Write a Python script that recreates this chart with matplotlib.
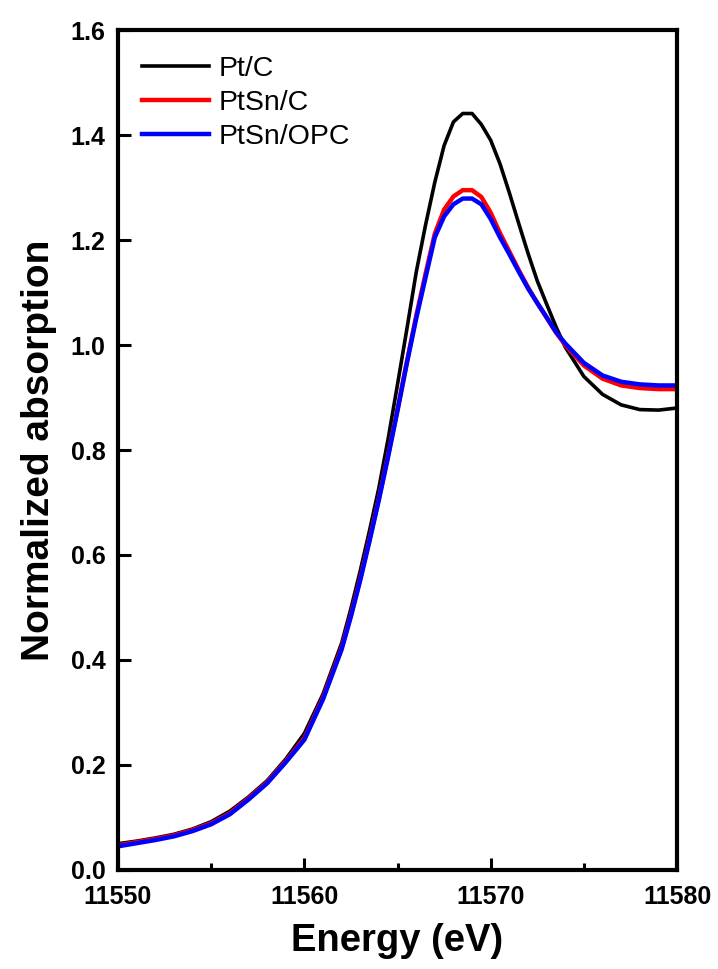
import numpy as np
import matplotlib
matplotlib.use("Agg")
import matplotlib.pyplot as plt
from matplotlib.ticker import MultipleLocator, FormatStrFormatter

# -----------------------------------------------------------------------------
# Data
# -----------------------------------------------------------------------------
energy = [11550, 11551, 11552, 11553, 11554, 11555, 11556, 11557, 11558, 11559,
          11560, 11561, 11562, 11562.5, 11563, 11563.5, 11564, 11564.5, 11565, 11565.5,
          11566, 11566.5, 11567, 11567.5, 11568, 11568.5, 11569, 11569.5, 11570, 11570.5,
          11571, 11571.5, 11572, 11572.5, 11573, 11573.5, 11574, 11575, 11576, 11577,
          11578, 11579, 11580]

pt_c = [0.050, 0.055, 0.061, 0.068, 0.078, 0.092, 0.112, 0.139, 0.170, 0.211,
        0.260, 0.335, 0.432, 0.498, 0.570, 0.647, 0.728, 0.822, 0.925, 1.030,
        1.138, 1.228, 1.310, 1.380, 1.425, 1.441, 1.441, 1.420, 1.390, 1.345,
        1.290, 1.232, 1.175, 1.122, 1.078, 1.035, 0.996, 0.940, 0.906, 0.886,
        0.877, 0.876, 0.880]

ptsn_c = [0.047, 0.053, 0.059, 0.066, 0.076, 0.089, 0.108, 0.136, 0.167, 0.207,
          0.251, 0.328, 0.423, 0.486, 0.555, 0.630, 0.708, 0.791, 0.878, 0.968,
          1.055, 1.135, 1.212, 1.258, 1.283, 1.295, 1.295, 1.282, 1.252, 1.213,
          1.178, 1.143, 1.110, 1.080, 1.052, 1.024, 1.000, 0.961, 0.936, 0.923,
          0.918, 0.916, 0.916]

ptsn_opc = [0.045, 0.051, 0.057, 0.064, 0.074, 0.087, 0.106, 0.134, 0.165, 0.205,
            0.248, 0.325, 0.420, 0.483, 0.552, 0.627, 0.705, 0.788, 0.875, 0.965,
            1.050, 1.128, 1.205, 1.245, 1.268, 1.279, 1.279, 1.268, 1.240, 1.205,
            1.173, 1.140, 1.108, 1.080, 1.053, 1.025, 1.003, 0.966, 0.942, 0.930,
            0.925, 0.923, 0.923]

labels = ['Pt/C', 'PtSn/C', 'PtSn/OPC']
colors = ['black', '#ff0000', '#0000ff']

# -----------------------------------------------------------------------------
# Plot
# -----------------------------------------------------------------------------
plt.rcParams['font.family'] = ['Liberation Sans', 'DejaVu Sans']

fig = plt.figure(figsize=(7.18, 9.69), dpi=100)
ax = fig.add_axes([0.1643, 0.1022, 0.7787, 0.8668])

for y, lab, col, lw in zip([pt_c, ptsn_c, ptsn_opc], labels, colors, [2.6, 3.2, 3.2]):
    ax.plot(energy, y, color=col, lw=lw, label=lab)

ax.set_xlim(11550, 11580)
ax.set_ylim(0, 1.6)
ax.xaxis.set_major_locator(MultipleLocator(10))
ax.xaxis.set_minor_locator(MultipleLocator(5))
ax.yaxis.set_major_locator(MultipleLocator(0.2))
ax.yaxis.set_major_formatter(FormatStrFormatter('%.1f'))

for sp in ax.spines.values():
    sp.set_linewidth(3)
ax.tick_params(which='major', direction='in', length=9, width=2.2,
               labelsize=18, top=False, right=False)
ax.tick_params(axis='x', which='major', pad=11)
ax.tick_params(axis='y', which='major', pad=9)
ax.tick_params(which='minor', direction='in', length=5, width=2.2,
               top=False, right=False)
for t in ax.get_xticklabels() + ax.get_yticklabels():
    t.set_fontweight('bold')

ax.set_xlabel('Energy (eV)', fontsize=27.5, fontweight='bold', labelpad=10)
ax.set_ylabel('Normalized absorption', fontsize=28, fontweight='bold', labelpad=10)

ax.legend(loc='upper left', bbox_to_anchor=(0.008, 0.993), frameon=False,
          fontsize=20.5, handlelength=2.35, handletextpad=0.32, labelspacing=0.28,
          borderaxespad=0.3)

fig.savefig('out.png', dpi=100)
